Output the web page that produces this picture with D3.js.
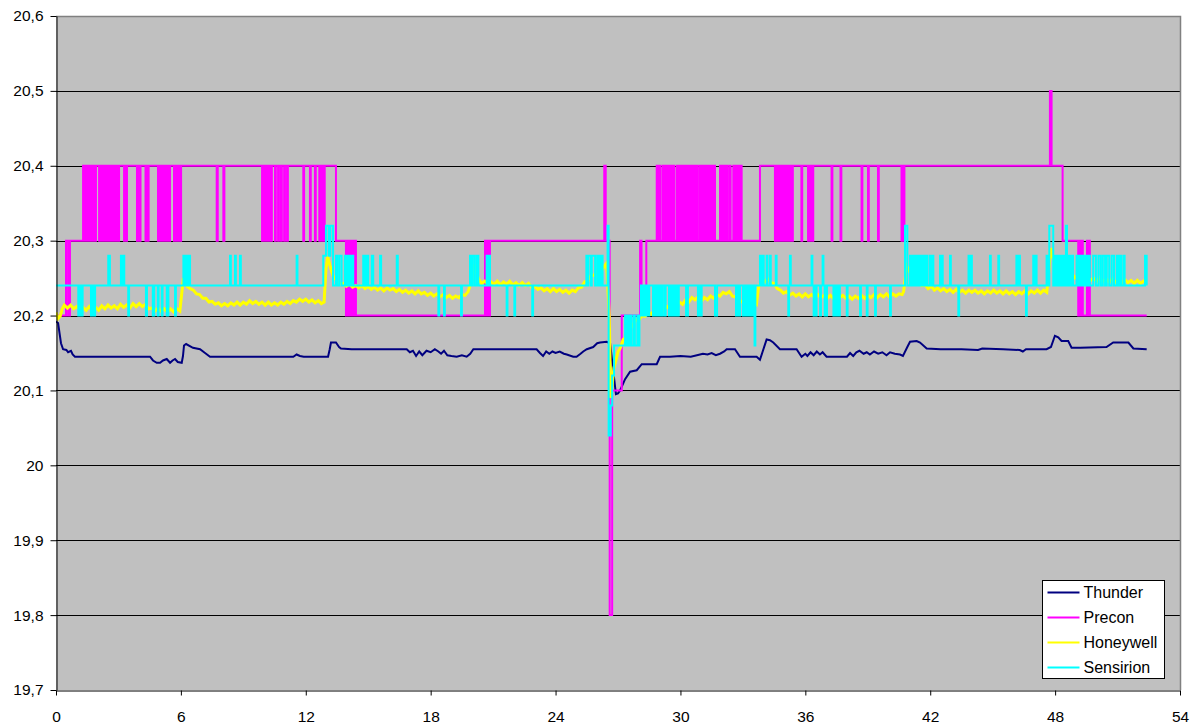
<!DOCTYPE html>
<html>
<head>
<meta charset="utf-8">
<script src="https://cdn.jsdelivr.net/npm/d3@7"></script>
<style>
  body { margin: 0; background: #fff; }
  svg { display: block; }
  text { font-family: "Liberation Sans", Arial, sans-serif; }
</style>
</head>
<body>
<svg id="chart" width="1197" height="727"></svg>
<script>
// ---- axis ticks ----
const xTicks = [0, 6, 12, 18, 24, 30, 36, 42, 48, 54];
const xTickLabels = ["0", "6", "12", "18", "24", "30", "36", "42", "48", "54"];
const yTicks = [19.7, 19.8, 19.9, 20.0, 20.1, 20.2, 20.3, 20.4, 20.5, 20.6];
const yTickLabels = ["19,7", "19,8", "19,9", "20", "20,1", "20,2", "20,3", "20,4", "20,5", "20,6"];

// ---- series ----
const seriesNames = ["Thunder", "Precon", "Honeywell", "Sensirion"];
const seriesColors = ["#000080", "#FF00FF", "#FFFF00", "#00FFFF"];

// Thunder: [time h, temperature]
const thunder = [
  [0,20.192],[0.1,20.19],[0.24,20.163],[0.34,20.155],[0.5,20.154],[0.58,20.151],[0.72,20.153],[0.8,20.148],[0.91,20.145],
  [2.0,20.145],[3.0,20.145],[4.0,20.145],[4.52,20.145],[4.66,20.14],[4.84,20.137],[5.0,20.137],[5.14,20.14],[5.32,20.142],
  [5.48,20.137],[5.6,20.14],[5.72,20.142],[5.85,20.138],[6.04,20.137],[6.1,20.146],[6.15,20.16],[6.25,20.162],[6.58,20.157],
  [6.92,20.155],[7.16,20.15],[7.4,20.145],[8.0,20.145],[9.0,20.145],[10.0,20.145],[11.0,20.145],[11.4,20.145],[11.56,20.148],
  [11.72,20.146],[11.9,20.145],[13.07,20.145],[13.15,20.155],[13.21,20.164],[13.45,20.164],[13.6,20.158],[13.69,20.156],
  [14.2,20.155],[15.0,20.155],[16.0,20.155],[16.85,20.155],[17.0,20.151],[17.15,20.153],[17.3,20.146],[17.45,20.152],
  [17.6,20.147],[17.8,20.153],[18.0,20.151],[18.2,20.155],[18.37,20.152],[18.5,20.149],[18.64,20.153],[18.8,20.147],
  [19.0,20.146],[19.25,20.145],[19.5,20.147],[19.73,20.145],[19.9,20.149],[20.05,20.155],[21.0,20.155],[22.0,20.155],
  [23.09,20.155],[23.25,20.15],[23.4,20.146],[23.55,20.152],[23.7,20.149],[23.85,20.152],[24.0,20.15],[24.2,20.152],
  [24.4,20.149],[24.54,20.148],[24.85,20.145],[25.01,20.145],[25.2,20.149],[25.33,20.152],[25.5,20.155],[25.81,20.158],
  [26.0,20.163],[26.14,20.164],[26.46,20.165],[26.62,20.163],[26.9,20.095],[27.0,20.096],[27.1,20.1],[27.34,20.115],
  [27.58,20.125],[27.9,20.127],[28.14,20.135],[28.86,20.135],[29.02,20.145],[29.5,20.145],[30.0,20.146],[30.5,20.145],
  [31.08,20.149],[31.3,20.148],[31.5,20.15],[31.7,20.147],[31.9,20.149],[32.1,20.152],[32.22,20.155],[32.62,20.155],
  [32.86,20.145],[33.5,20.145],[33.66,20.145],[33.82,20.141],[34.14,20.168],[34.3,20.167],[34.46,20.164],[34.78,20.155],
  [35.58,20.155],[35.82,20.145],[36.0,20.149],[36.1,20.146],[36.25,20.151],[36.4,20.147],[36.55,20.152],[36.7,20.148],
  [36.83,20.151],[37.02,20.145],[38.0,20.145],[38.15,20.15],[38.3,20.146],[38.45,20.151],[38.6,20.153],[38.8,20.149],
  [38.95,20.151],[39.1,20.148],[39.3,20.152],[39.5,20.149],[39.7,20.151],[39.9,20.147],[40.07,20.151],[40.3,20.149],
  [40.55,20.148],[40.69,20.146],[40.9,20.158],[41.03,20.165],[41.35,20.166],[41.51,20.164],[41.83,20.156],[42.5,20.155],
  [43.5,20.155],[44.3,20.154],[44.5,20.156],[45.5,20.155],[46.3,20.154],[46.45,20.152],[46.6,20.155],[47.59,20.155],
  [47.8,20.158],[47.99,20.173],[48.15,20.171],[48.31,20.166],[48.63,20.166],[48.79,20.157],[49.2,20.157],[50.47,20.158],
  [50.79,20.164],[51.52,20.164],[51.76,20.156],[52.4,20.155]
];

// Precon: readings held until the next change
const precon = [
  [0,20.2],[0.48,20.3],[0.58,20.2],[0.67,20.3],[1.30,20.4],
  [1.35,20.3],[1.39,20.4],[1.44,20.3],[1.49,20.4],[1.54,20.3],[1.59,20.4],[1.68,20.3],[1.73,20.4],[1.78,20.3],[1.83,20.4],
  [1.87,20.3],[1.92,20.4],[2.07,20.3],[2.11,20.4],[2.16,20.3],[2.21,20.4],[2.26,20.3],[2.31,20.4],[2.35,20.3],[2.40,20.4],
  [2.45,20.3],[2.50,20.4],[2.55,20.3],[2.59,20.4],[2.64,20.3],[2.69,20.4],[2.74,20.3],[2.79,20.4],[2.88,20.3],[2.93,20.4],
  [2.98,20.3],[3.03,20.4],[3.27,20.3],[3.31,20.4],[3.36,20.3],[3.41,20.4],[3.89,20.3],[3.94,20.4],[4.01,20.3],[4.06,20.4],
  [4.30,20.3],[4.35,20.4],[4.40,20.3],[4.45,20.4],[4.90,20.3],[4.95,20.4],[5.00,20.3],[5.05,20.4],[5.09,20.3],[5.14,20.4],
  [5.19,20.3],[5.24,20.4],[5.31,20.3],[5.36,20.4],[5.43,20.3],[5.48,20.4],[5.67,20.3],[5.72,20.4],[5.77,20.3],[5.81,20.4],
  [5.86,20.3],[5.91,20.4],[5.96,20.3],[6.01,20.4],
  [7.72,20.3],[7.77,20.4],[8.04,20.3],[8.09,20.4],
  [9.90,20.3],[9.94,20.4],[9.97,20.3],[10.01,20.4],[10.04,20.3],[10.08,20.4],[10.14,20.3],[10.18,20.4],[10.23,20.3],[10.27,20.4],
  [10.33,20.3],[10.37,20.4],[10.52,20.3],[10.56,20.4],[10.67,20.3],[10.71,20.4],[10.81,20.3],[10.85,20.4],[10.96,20.3],[11.00,20.4],
  [11.10,20.3],[11.14,20.4],
  [11.88,20.3],[11.92,20.4],[12.20,20.3],[12.24,20.4],[12.44,20.3],[12.48,20.4],[12.65,20.3],[12.69,20.4],[12.76,20.3],[12.80,20.4],
  [12.87,20.3],[12.91,20.4],
  [13.45,20.3],
  [13.93,20.2],[13.98,20.3],[14.03,20.2],[14.08,20.3],[14.13,20.2],[14.17,20.3],[14.22,20.2],[14.27,20.3],[14.32,20.2],[14.36,20.3],[14.41,20.2],
  [20.61,20.3],[20.66,20.2],[20.71,20.3],[20.78,20.2],[20.85,20.3],
  [26.34,20.4],[26.41,20.3],[26.60,19.8],[26.72,20.1],[27.18,20.2],
  [28.06,20.3],[28.13,20.2],[28.36,20.3],
  [28.86,20.4],[28.92,20.3],[28.97,20.4],[29.04,20.3],[29.15,20.4],[29.21,20.3],[29.27,20.4],[29.34,20.3],[29.42,20.4],[29.47,20.3],
  [29.53,20.4],[29.58,20.3],[29.66,20.4],[29.70,20.3],[29.82,20.4],[29.88,20.3],[29.94,20.4],[30.01,20.3],[30.07,20.4],[30.14,20.3],
  [30.22,20.4],[30.27,20.3],[30.30,20.4],[30.38,20.3],[30.46,20.4],[30.54,20.3],[30.62,20.4],[30.70,20.3],[30.76,20.4],[30.81,20.3],
  [30.91,20.4],[30.97,20.3],[31.02,20.4],[31.10,20.3],[31.18,20.4],[31.26,20.3],[31.34,20.4],[31.39,20.3],[31.45,20.4],[31.52,20.3],
  [31.61,20.4],[31.66,20.3],[31.90,20.4],[31.98,20.3],[32.06,20.4],[32.14,20.3],[32.19,20.4],[32.25,20.3],[32.35,20.4],[32.41,20.3],
  [32.54,20.4],[32.62,20.3],[32.70,20.4],[32.78,20.3],[32.86,20.4],[32.94,20.3],
  [33.82,20.4],
  [34.54,20.3],[34.58,20.4],[34.64,20.3],[34.68,20.4],[34.76,20.3],[34.80,20.4],[34.88,20.3],[34.92,20.4],[35.00,20.3],[35.04,20.4],
  [35.12,20.3],[35.16,20.4],[35.24,20.3],[35.28,20.4],[35.36,20.3],[35.40,20.4],[35.81,20.3],[35.85,20.4],[36.13,20.3],[36.17,20.4],
  [36.25,20.3],[36.29,20.4],[36.34,20.3],[36.38,20.4],[37.26,20.3],[37.30,20.4],[37.69,20.3],[37.73,20.4],[38.70,20.3],[38.74,20.4],
  [39.01,20.3],[39.05,20.4],[39.49,20.3],[39.53,20.4],[40.62,20.3],[40.66,20.4],[40.72,20.3],[40.76,20.4],
  [47.75,20.5],[47.83,20.4],[48.36,20.3],
  [49.11,20.2],[49.16,20.3],[49.20,20.2],[49.25,20.3],[49.33,20.2],[49.53,20.3],[49.60,20.2],[49.63,20.3],[49.67,20.2],
  [52.40,20.2]
];

// Honeywell: [time h, temperature]
const honeywell = [
  [0,20.204],[0.1,20.196],[0.2,20.199],[0.3,20.209],[0.4,20.214],[0.55,20.21],[0.7,20.214],[0.85,20.209],[1.0,20.212],
  [1.15,20.207],[1.3,20.211],[1.45,20.207],[1.6,20.212],[1.75,20.208],[1.9,20.211],[2.05,20.207],[2.2,20.213],[2.35,20.209],
  [2.5,20.214],[2.65,20.21],[2.8,20.213],[2.95,20.209],[3.1,20.215],[3.25,20.211],[3.4,20.214],[3.55,20.21],[3.7,20.216],
  [3.85,20.212],[4.0,20.216],[4.15,20.212],[4.3,20.215],[4.45,20.209],[4.6,20.21],[4.75,20.206],[4.9,20.21],[5.05,20.206],
  [5.2,20.209],[5.35,20.205],[5.5,20.209],[5.65,20.205],[5.8,20.209],[5.95,20.206],
  [6.05,20.232],[6.12,20.25],[6.2,20.243],[6.3,20.239],[6.45,20.236],[6.6,20.234],[6.75,20.229],[6.9,20.228],[7.05,20.223],
  [7.2,20.223],[7.35,20.218],[7.5,20.219],[7.65,20.215],[7.8,20.217],[7.95,20.213],[8.1,20.216],[8.25,20.213],[8.4,20.217],
  [8.55,20.214],[8.7,20.218],[8.85,20.214],[9.0,20.218],[9.15,20.215],[9.3,20.22],[9.45,20.216],[9.6,20.219],[9.75,20.215],
  [9.9,20.218],[10.05,20.214],[10.2,20.218],[10.35,20.214],[10.5,20.217],[10.65,20.214],[10.8,20.218],[10.95,20.215],
  [11.1,20.219],[11.25,20.216],[11.4,20.22],[11.55,20.218],[11.7,20.222],[11.85,20.219],[12.0,20.222],[12.15,20.218],
  [12.3,20.221],[12.45,20.217],[12.6,20.22],[12.75,20.216],[12.88,20.218],
  [12.97,20.262],[13.05,20.279],[13.15,20.268],[13.25,20.258],[13.35,20.25],[13.5,20.247],[13.65,20.242],[13.8,20.243],
  [13.95,20.239],[14.1,20.242],[14.25,20.238],[14.4,20.24],[14.55,20.237],[14.7,20.24],[14.85,20.236],[15.0,20.239],
  [15.15,20.235],[15.3,20.238],[15.45,20.234],[15.6,20.237],[15.75,20.233],[15.9,20.237],[16.05,20.234],[16.2,20.236],
  [16.35,20.232],[16.5,20.235],[16.65,20.231],[16.8,20.234],[16.95,20.23],[17.1,20.233],[17.25,20.229],[17.4,20.233],
  [17.55,20.229],[17.7,20.231],[17.85,20.227],[18.0,20.23],[18.15,20.226],[18.3,20.229],[18.45,20.225],[18.6,20.228],
  [18.75,20.224],[18.9,20.227],[19.05,20.223],[19.2,20.226],[19.35,20.224],[19.5,20.228],[19.65,20.227],[19.8,20.232],
  [20.0,20.25],[20.1,20.268],[20.2,20.258],[20.3,20.249],[20.45,20.243],[20.6,20.246],[20.75,20.242],[20.9,20.245],
  [21.05,20.242],[21.2,20.246],[21.35,20.241],[21.5,20.245],[21.65,20.242],[21.8,20.246],[21.95,20.241],[22.1,20.244],
  [22.25,20.24],[22.4,20.244],[22.55,20.24],[22.7,20.243],[22.85,20.238],[23.0,20.239],[23.15,20.235],[23.3,20.237],
  [23.45,20.233],[23.6,20.236],[23.75,20.232],[23.9,20.236],[24.05,20.232],[24.2,20.235],[24.35,20.231],[24.5,20.234],
  [24.65,20.23],[24.8,20.234],[24.95,20.232],[25.1,20.237],[25.25,20.238],[25.4,20.245],[25.55,20.246],[25.7,20.253],
  [25.85,20.254],[26.0,20.259],[26.15,20.257],[26.3,20.264],[26.45,20.27],
  [26.58,20.2],[26.65,20.09],[26.73,20.11],[26.8,20.13],[26.9,20.14],[27.0,20.152],[27.1,20.156],[27.25,20.168],[27.4,20.171],
  [27.55,20.183],[27.7,20.186],[27.85,20.194],[28.0,20.194],[28.15,20.2],[28.3,20.199],[28.45,20.204],[28.6,20.202],
  [28.75,20.207],[28.9,20.204],[29.05,20.209],[29.2,20.207],[29.35,20.212],[29.5,20.209],[29.65,20.215],[29.8,20.213],
  [29.95,20.218],[30.1,20.215],[30.25,20.221],[30.4,20.218],[30.55,20.224],[30.7,20.221],[30.85,20.225],[31.0,20.219],
  [31.15,20.224],[31.3,20.221],[31.45,20.226],[31.6,20.223],[31.75,20.228],[31.9,20.226],[32.05,20.231],[32.2,20.229],
  [32.35,20.232],[32.5,20.226],[32.65,20.225],[32.8,20.219],[32.95,20.219],[33.1,20.214],[33.25,20.216],[33.4,20.212],
  [33.55,20.217],[33.65,20.215],
  [33.75,20.238],[33.9,20.246],[34.05,20.245],[34.2,20.249],[34.35,20.244],[34.5,20.243],[34.65,20.236],[34.8,20.234],
  [34.95,20.23],[35.1,20.232],[35.25,20.227],[35.4,20.23],[35.55,20.226],[35.7,20.229],[35.85,20.225],[36.0,20.229],
  [36.15,20.225],[36.3,20.228],[36.45,20.224],[36.6,20.228],[36.75,20.224],[36.9,20.227],[37.05,20.223],[37.2,20.227],
  [37.35,20.223],[37.5,20.227],[37.65,20.224],[37.8,20.227],[37.95,20.223],[38.1,20.226],[38.25,20.222],[38.4,20.226],
  [38.55,20.223],[38.7,20.227],[38.85,20.223],[39.0,20.227],[39.15,20.224],[39.3,20.228],[39.45,20.224],[39.6,20.228],
  [39.75,20.225],[39.9,20.229],[40.05,20.225],[40.2,20.229],[40.35,20.226],[40.5,20.229],[40.65,20.228],[40.72,20.232],
  [40.8,20.25],[40.87,20.266],[40.95,20.262],[41.05,20.257],[41.15,20.255],[41.3,20.247],[41.45,20.246],[41.6,20.24],
  [41.75,20.241],[41.9,20.236],[42.05,20.239],[42.2,20.234],[42.35,20.237],[42.5,20.233],[42.65,20.236],[42.8,20.232],
  [42.95,20.235],[43.1,20.231],[43.25,20.235],[43.4,20.231],[43.55,20.234],[43.7,20.23],[43.85,20.234],[44.0,20.231],
  [44.15,20.234],[44.3,20.23],[44.45,20.233],[44.6,20.229],[44.75,20.233],[44.9,20.23],[45.05,20.234],[45.2,20.23],
  [45.35,20.233],[45.5,20.229],[45.65,20.233],[45.8,20.229],[45.95,20.232],[46.1,20.228],[46.25,20.232],[46.4,20.229],
  [46.55,20.233],[46.7,20.229],[46.85,20.233],[47.0,20.23],[47.15,20.234],[47.3,20.23],[47.45,20.234],[47.6,20.231],
  [47.7,20.26],[47.78,20.29],[47.86,20.28],[47.95,20.274],[48.05,20.266],[48.15,20.262],[48.25,20.255],[48.35,20.254],
  [48.5,20.248],[48.65,20.25],[48.8,20.247],[48.95,20.252],[49.1,20.248],[49.25,20.251],[49.4,20.247],[49.55,20.251],
  [49.7,20.247],[49.85,20.25],[50.0,20.246],[50.15,20.25],[50.3,20.246],[50.45,20.249],[50.6,20.245],[50.75,20.249],
  [50.9,20.245],[51.05,20.248],[51.2,20.244],[51.35,20.248],[51.5,20.244],[51.65,20.247],[51.8,20.243],[51.95,20.247],
  [52.1,20.243],[52.25,20.246],[52.4,20.244]
];

// Sensirion: readings held until the next change
const sensirion = [
  [0,20.24],
  [1.07,20.2],[1.13,20.24],[1.18,20.2],[1.23,20.24],[1.25,20.2],[1.28,20.24],
  [1.68,20.2],[1.73,20.24],[1.78,20.2],[1.83,20.24],[1.85,20.2],[1.88,20.24],
  [2.51,20.28],[2.59,20.24],[3.12,20.28],[3.17,20.24],[3.22,20.28],[3.28,20.24],
  [3.47,20.2],[3.51,20.24],[4.32,20.2],[4.37,20.24],[4.65,20.2],[4.67,20.24],[4.70,20.2],[4.72,20.24],[4.89,20.2],[4.93,20.24],
  [5.08,20.2],[5.12,20.24],[5.32,20.2],[5.35,20.24],[5.37,20.2],[5.40,20.24],[5.72,20.2],[5.76,20.24],
  [6.12,20.28],[6.17,20.24],[6.21,20.28],[6.29,20.24],[6.32,20.28],[6.36,20.24],[6.39,20.28],[6.44,20.24],
  [8.36,20.28],[8.40,20.24],[8.60,20.28],[8.64,20.24],[8.84,20.28],[8.88,20.24],
  [11.56,20.28],[11.60,20.24],
  [12.84,20.28],[12.97,20.32],[13.10,20.28],[13.18,20.32],[13.31,20.24],
  [13.45,20.28],[13.51,20.24],[13.61,20.28],[13.72,20.24],[13.88,20.28],[13.96,20.24],[14.04,20.28],[14.12,20.24],[14.20,20.28],[14.28,20.24],
  [14.76,20.28],[14.85,20.24],[14.93,20.28],[15.00,20.24],[15.17,20.28],[15.24,20.24],
  [15.57,20.28],[15.62,20.24],[16.37,20.28],[16.42,20.24],
  [18.37,20.2],[18.41,20.24],[18.64,20.2],[18.68,20.24],[19.46,20.2],[19.50,20.24],
  [19.89,20.28],[19.95,20.24],[20.00,20.28],[20.10,20.24],[20.20,20.28],[20.29,20.24],
  [20.69,20.28],[20.74,20.24],[20.80,20.28],[20.85,20.24],
  [21.65,20.2],[21.69,20.24],[22.02,20.2],[22.06,20.24],[22.88,20.2],[22.92,20.24],
  [25.48,20.28],[25.55,20.24],[25.58,20.28],[25.70,20.24],[25.74,20.28],[25.90,20.24],[26.00,20.28],[26.04,20.24],
  [26.10,20.28],[26.14,20.24],[26.22,20.28],[26.26,20.24],
  [26.50,20.32],[26.55,20.04],[26.65,20.08],[26.72,20.12],[26.81,20.16],
  [27.34,20.2],[27.42,20.16],[27.50,20.2],[27.58,20.16],[27.62,20.2],[27.66,20.16],[27.77,20.2],[27.81,20.16],[27.93,20.2],[27.97,20.16],
  [28.03,20.2],[28.10,20.24],[28.14,20.2],[28.20,20.24],[28.25,20.2],[28.30,20.24],[28.36,20.2],[28.40,20.24],[28.45,20.2],[28.50,20.24],
  [28.68,20.2],[28.73,20.24],[28.78,20.2],[28.84,20.24],[28.90,20.2],[28.95,20.24],[29.00,20.2],[29.06,20.24],[29.10,20.2],[29.15,20.24],
  [29.25,20.2],[29.29,20.24],[29.45,20.2],[29.50,20.24],[29.54,20.2],[29.58,20.24],[29.64,20.2],[29.69,20.24],[29.74,20.2],[29.79,20.24],
  [29.88,20.2],[29.92,20.24],[30.27,20.2],[30.36,20.24],[30.84,20.2],[30.90,20.24],[30.97,20.2],[31.02,20.24],[31.66,20.2],[31.76,20.24],
  [32.67,20.2],[32.74,20.24],[32.80,20.2],[32.86,20.24],
  [33.00,20.2],[33.05,20.24],[33.10,20.2],[33.16,20.24],[33.22,20.2],[33.28,20.24],[33.34,20.2],[33.40,20.24],[33.46,20.2],[33.52,20.24],
  [33.56,20.16],[33.60,20.24],
  [33.82,20.28],[33.88,20.24],[33.92,20.28],[34.00,20.24],[34.14,20.28],[34.18,20.24],[34.30,20.28],[34.34,20.24],[34.58,20.28],[34.62,20.24],
  [35.18,20.2],[35.22,20.24],[35.26,20.28],[35.30,20.24],
  [36.30,20.28],[36.34,20.24],[36.40,20.2],[36.45,20.24],[36.50,20.2],[36.54,20.24],[36.71,20.2],[36.75,20.24],[36.83,20.28],[36.87,20.24],
  [36.93,20.2],[36.97,20.24],[37.00,20.2],[37.04,20.24],
  [37.35,20.2],[37.40,20.24],[37.47,20.2],[37.52,20.24],[37.60,20.2],[37.66,20.24],
  [37.99,20.2],[38.03,20.24],[38.63,20.2],[38.67,20.24],[38.95,20.2],[38.99,20.24],[39.35,20.2],[39.39,20.24],[40.07,20.2],[40.11,20.24],
  [40.79,20.32],[40.90,20.24],
  [41.03,20.28],[41.07,20.24],[41.11,20.28],[41.15,20.24],[41.22,20.28],[41.28,20.24],[41.32,20.28],[41.35,20.24],[41.40,20.28],[41.46,20.24],
  [41.51,20.28],[41.55,20.24],[41.59,20.28],[41.66,20.24],[41.71,20.28],[41.74,20.24],[41.83,20.28],[41.87,20.24],[41.99,20.28],[42.05,20.24],
  [42.10,20.28],[42.15,20.24],
  [42.47,20.28],[42.53,20.24],[42.56,20.28],[42.60,20.24],[42.95,20.28],[42.99,20.24],
  [43.35,20.2],[43.39,20.24],
  [43.84,20.28],[43.88,20.24],[43.96,20.28],[44.00,20.24],[44.87,20.28],[44.91,20.24],[45.27,20.28],[45.31,20.24],
  [46.14,20.28],[46.19,20.24],[46.27,20.28],[46.31,20.24],
  [46.60,20.2],[46.64,20.24],
  [46.95,20.28],[47.00,20.24],[47.07,20.28],[47.11,20.24],[47.59,20.28],[47.63,20.24],
  [47.72,20.32],[47.91,20.24],
  [47.99,20.28],[48.05,20.24],[48.10,20.28],[48.15,20.24],[48.20,20.28],[48.25,20.24],[48.30,20.28],[48.35,20.24],[48.40,20.28],[48.45,20.24],
  [48.52,20.32],[48.57,20.24],[48.62,20.28],[48.67,20.24],[48.72,20.28],[48.77,20.24],[48.82,20.28],[48.86,20.24],
  [49.03,20.28],[49.08,20.24],[49.13,20.28],[49.18,20.24],[49.23,20.28],[49.28,20.24],[49.33,20.28],[49.38,20.24],[49.43,20.28],[49.48,20.24],
  [49.53,20.28],[49.58,20.24],[49.63,20.28],[49.67,20.24],
  [49.83,20.28],[49.96,20.24],[50.08,20.28],[50.19,20.24],[50.29,20.28],[50.40,20.24],[50.48,20.28],[50.60,20.24],[50.72,20.28],[50.83,20.24],
  [50.96,20.28],[51.04,20.24],[51.12,20.28],[51.19,20.24],[51.30,20.28],[51.34,20.24],[52.32,20.28],[52.40,20.24]
];

// ---- layout ----
const plot = { left: 56, right: 1180, top: 16, bottom: 690 };
const x = d3.scaleLinear().domain([0, 54]).range([plot.left, plot.right]);
const y = d3.scaleLinear().domain([19.7, 20.6]).range([plot.bottom, plot.top]);
const crisp = v => Math.round(v) + 0.5;

const svg = d3.select("#chart");

// plot background
svg.append("rect")
  .attr("x", plot.left).attr("y", plot.top)
  .attr("width", plot.right - plot.left).attr("height", plot.bottom - plot.top)
  .attr("fill", "#C0C0C0");

// horizontal gridlines
svg.append("g")
  .selectAll("line")
  .data(yTicks.filter(v => v > 19.75 && v < 20.55))
  .join("line")
  .attr("x1", plot.left).attr("x2", plot.right)
  .attr("y1", d => crisp(y(d))).attr("y2", d => crisp(y(d)))
  .attr("stroke", "#000").attr("stroke-width", 1);

// plot frame (top and right)
svg.append("path")
  .attr("d", `M${plot.left},${plot.top + 0.5}H${plot.right + 0.5}V${plot.bottom}`)
  .attr("fill", "none").attr("stroke", "#808080").attr("stroke-width", 1.5);

// series
svg.append("defs").append("clipPath").attr("id", "plotClip")
  .append("rect")
  .attr("x", plot.left).attr("y", plot.top)
  .attr("width", plot.right - plot.left).attr("height", plot.bottom - plot.top);

const linear = d3.line().x(d => x(d[0])).y(d => y(d[1]));
const stepped = d3.line().x(d => x(d[0])).y(d => y(d[1])).curve(d3.curveStepAfter);

const layers = [
  { data: thunder,   gen: linear,  color: seriesColors[0], width: 2 },
  { data: precon,    gen: stepped, color: seriesColors[1], width: 2 },
  { data: honeywell, gen: linear,  color: seriesColors[2], width: 3 },
  { data: sensirion, gen: stepped, color: seriesColors[3], width: 2 }
];

const seriesG = svg.append("g").attr("clip-path", "url(#plotClip)");
layers.forEach(s => {
  seriesG.append("path")
    .attr("d", s.gen(s.data))
    .attr("fill", "none")
    .attr("stroke", s.color)
    .attr("stroke-width", s.width)
    .attr("stroke-linejoin", "miter");
});

// axes
const yAxis = d3.axisLeft(y)
  .tickValues(yTicks)
  .tickFormat((d, i) => yTickLabels[i])
  .tickSize(6).tickSizeOuter(0).tickPadding(7);
const gy = svg.append("g").attr("transform", `translate(${plot.left + 0.5},0)`).call(yAxis);

const xAxis = d3.axisBottom(x)
  .tickValues(xTicks)
  .tickFormat((d, i) => xTickLabels[i])
  .tickSize(5).tickSizeOuter(0).tickPadding(15);
const gx = svg.append("g").attr("transform", `translate(0,${plot.bottom + 0.5})`).call(xAxis);

[gx, gy].forEach(g => {
  g.select(".domain").attr("stroke", "#000");
  g.selectAll(".tick line").attr("stroke", "#000");
  g.selectAll(".tick text")
    .attr("fill", "#000")
    .style("font-size", "15.5px")
    .style("font-family", "'Liberation Sans', Arial, sans-serif");
});

// legend
const legend = svg.append("g").attr("transform", "translate(1042.5,580.5)");
legend.append("rect")
  .attr("width", 122).attr("height", 98)
  .attr("fill", "#fff").attr("stroke", "#000").attr("stroke-width", 1);
const entries = legend.selectAll("g.entry")
  .data(seriesNames)
  .join("g")
  .attr("class", "entry")
  .attr("transform", (d, i) => `translate(0,${12 + i * 25})`);
entries.append("line")
  .attr("x1", 5).attr("x2", 37).attr("y1", 0).attr("y2", 0)
  .attr("stroke", (d, i) => seriesColors[i]).attr("stroke-width", 2);
entries.append("text")
  .attr("x", 41).attr("y", 0).attr("dy", "0.36em")
  .style("font-size", "16px")
  .attr("fill", "#000")
  .text(d => d);
</script>
</body>
</html>
